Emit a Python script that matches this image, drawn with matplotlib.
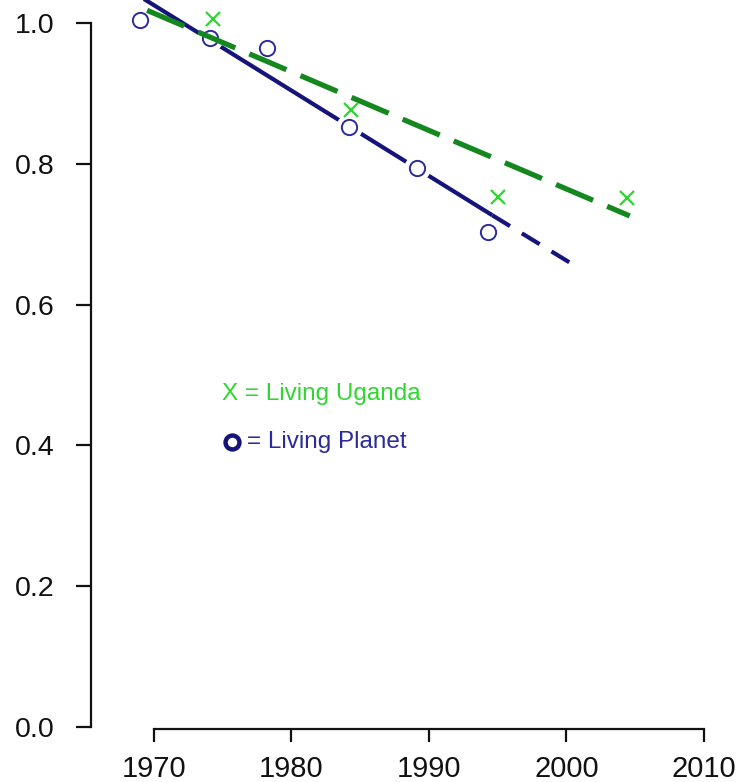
import matplotlib
matplotlib.use("Agg")
import matplotlib.pyplot as plt
from matplotlib.lines import Line2D

plt.rcParams['font.family'] = ['Liberation Sans', 'DejaVu Sans']
plt.rcParams['lines.scale_dashes'] = False

# data
planet_years = [1969.0, 1974.1, 1978.2, 1984.2, 1989.1, 1994.3]
planet_index = [1.004, 0.979, 0.964, 0.852, 0.794, 0.703]
uganda_years = [1974.3, 1984.3, 1995.0, 2004.4]
uganda_index = [1.006, 0.876, 0.753, 0.752]

# fitted trend lines (solid part + projected part for the planet)
planet_fit_years = [1969.2, 1994.6]
planet_fit_index = [1.035, 0.727]
planet_proj_years = [1994.6, 2000.3]
planet_proj_index = [0.727, 0.659]
uganda_fit_years = [1969.5, 2004.6]
uganda_fit_index = [1.018, 0.726]

x_ticks = [1970, 1980, 1990, 2000, 2010]
y_ticks = [0.0, 0.2, 0.4, 0.6, 0.8, 1.0]

navy = '#14147a'
circ = '#2b2b9c'
dkgreen = '#14881e'
ltgreen = '#2fd62f'

fig = plt.figure(figsize=(7.36, 7.82), dpi=100)
ax = fig.add_axes([0, 0, 1, 1])
ax.set_xlim(1958.8, 2012.33)
ax.set_ylim(-0.0781, 1.0327)
ax.patch.set_visible(False)

# blue trend
ax.plot(planet_fit_years, planet_fit_index, color=navy, lw=3.0, zorder=2,
        solid_capstyle='butt')
ax.plot(planet_proj_years, planet_proj_index, color=navy, lw=3.0, zorder=2,
        dashes=(15, 10), dash_capstyle='butt')

# circles with a white halo that breaks the line
ax.plot(planet_years, planet_index, 'o', ms=16, mfc='white', mec='white',
        mew=3, zorder=3)
ax.plot(planet_years, planet_index, 'o', ms=11, mfc='none', mec=circ,
        mew=1.4, zorder=4)

# green trend
ax.plot(uganda_fit_years, uganda_fit_index, color=dkgreen, lw=3.8, zorder=5,
        dashes=(29, 11), dash_capstyle='butt')
ax.plot(uganda_years, uganda_index, 'x', ms=10.5, mec=ltgreen, mew=1.6,
        zorder=6)

# detached R-style axes
for s in ['top', 'right']:
    ax.spines[s].set_visible(False)
ax.spines['left'].set_position(('data', 1965.4))
ax.spines['left'].set_bounds(0, 1)
ax.spines['bottom'].set_position(('data', -0.003))
ax.spines['bottom'].set_bounds(1970, 2010)
for s in ['left', 'bottom']:
    ax.spines[s].set_linewidth(1.6)
    ax.spines[s].set_color('#111111')

ax.set_xticks(x_ticks)
ax.set_xticklabels([str(v) for v in x_ticks])
ax.set_yticks(y_ticks)
ax.set_yticklabels([f'{v:.1f}' for v in y_ticks])
ax.tick_params(axis='y', length=11, width=1.6, pad=15, labelsize=20.5,
               colors='#111111')
ax.tick_params(axis='x', length=9.5, width=1.6, pad=9, labelsize=21,
               colors='#111111')

# hand-made key
fig.text(222 / 736, 1 - 394 / 782, 'X = Living Uganda', color=ltgreen,
         fontsize=17.5, ha='left', va='center')
fig.text(247 / 736, 1 - 442 / 782, '= Living Planet', color=circ,
         fontsize=17.5, ha='left', va='center')
fig.add_artist(Line2D([232 / 736], [1 - 442 / 782], marker='o', ms=10,
                      mfc='none', mec=navy, mew=3.2,
                      transform=fig.transFigure))

fig.savefig('out.png', dpi=100)
